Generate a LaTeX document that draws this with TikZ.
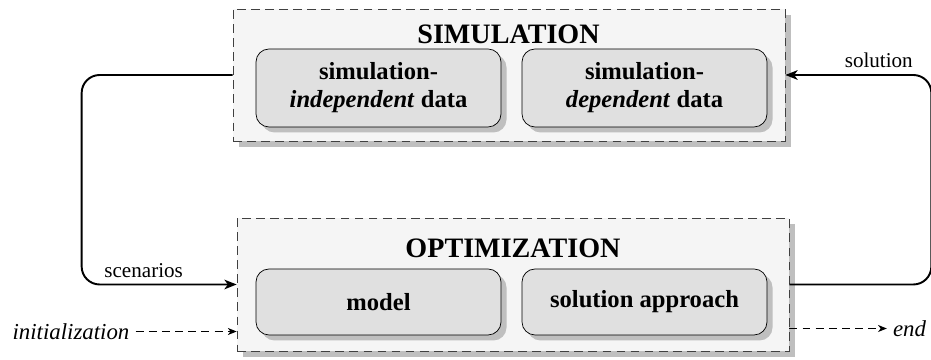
\documentclass[tikz,border=0pt]{standalone}
\usepackage{fontspec}
\setmainfont{Liberation Serif}
\usetikzlibrary{arrows.meta}
\usetikzlibrary{shadows}

\tikzset{
  groupbox/.style={draw=black!75, dash pattern=on 5pt off 3pt, fill=black!4,
    minimum width=11.04cm,
    drop shadow={shadow xshift=0.12cm, shadow yshift=-0.12cm, fill=black!25, opacity=1}},
  partbox/.style={draw, fill=black!12, rounded corners=0.26cm, minimum width=4.9cm,
    align=center, font=\fontsize{14}{16}\selectfont\bfseries,
    drop shadow={shadow xshift=0.11cm, shadow yshift=-0.11cm, fill=black!25, opacity=1}},
  titletext/.style={font=\fontsize{16}{19}\selectfont\bfseries},
  flowarrow/.style={line width=1.1pt, rounded corners=0.36cm,
    -{Stealth[length=7pt, width=5.5pt, inset=2pt]}},
  sidearrow/.style={line width=0.6pt, dash pattern=on 4.5pt off 3pt,
    -{Stealth[length=5pt, width=4pt, inset=1.5pt]}}
}

\begin{document}
\begin{tikzpicture}[every node/.style={font=\fontsize{12}{14}\selectfont}]
        \useasboundingbox (0,0) rectangle (18.62,7.2);

        \node[groupbox, minimum height=2.64cm] (sim) at (10.18,5.70) {};
        \node[groupbox, minimum height=2.66cm] (opt) at (10.26,1.51) {};

        \node[titletext] (simt) at (10.17,6.52) {SIMULATION};
        \node[partbox, minimum height=1.56cm] (indep) at (7.57,5.44)
        {simulation-\\\textit{independent} data};
        \node[partbox, minimum height=1.56cm] (dep) at (12.89,5.44)
        {simulation-\\\textit{dependent} data};

        \node[titletext] (optt) at (10.26,2.24) {OPTIMIZATION};
        \node[partbox, minimum height=1.32cm] (model) at (7.57,1.16) {model};
        \node[partbox, minimum height=1.32cm] (appr) at (12.89,1.16) {solution approach};

        \node[font=\fontsize{13}{15}\selectfont\itshape] (init) at (1.42,0.57) {initialization};
        \node[font=\fontsize{13}{15}\selectfont\itshape] (fin) at (18.19,0.63) {end};

        % loop between the two blocks
        \draw[flowarrow] (sim.west) -- ++(-3.02,0) |-
        node[pos=0.7, above] {scenarios} (opt.west);
        \draw[flowarrow] (opt.east) -- ++(2.84,0) |-
        node[pos=0.68, above] {solution} (sim.east);

        \draw[sidearrow] (init.east) -- (init.east -| opt.west);
        \draw[sidearrow] (fin.west -| opt.east) -- (fin.west);
      \end{tikzpicture}
\end{document}
